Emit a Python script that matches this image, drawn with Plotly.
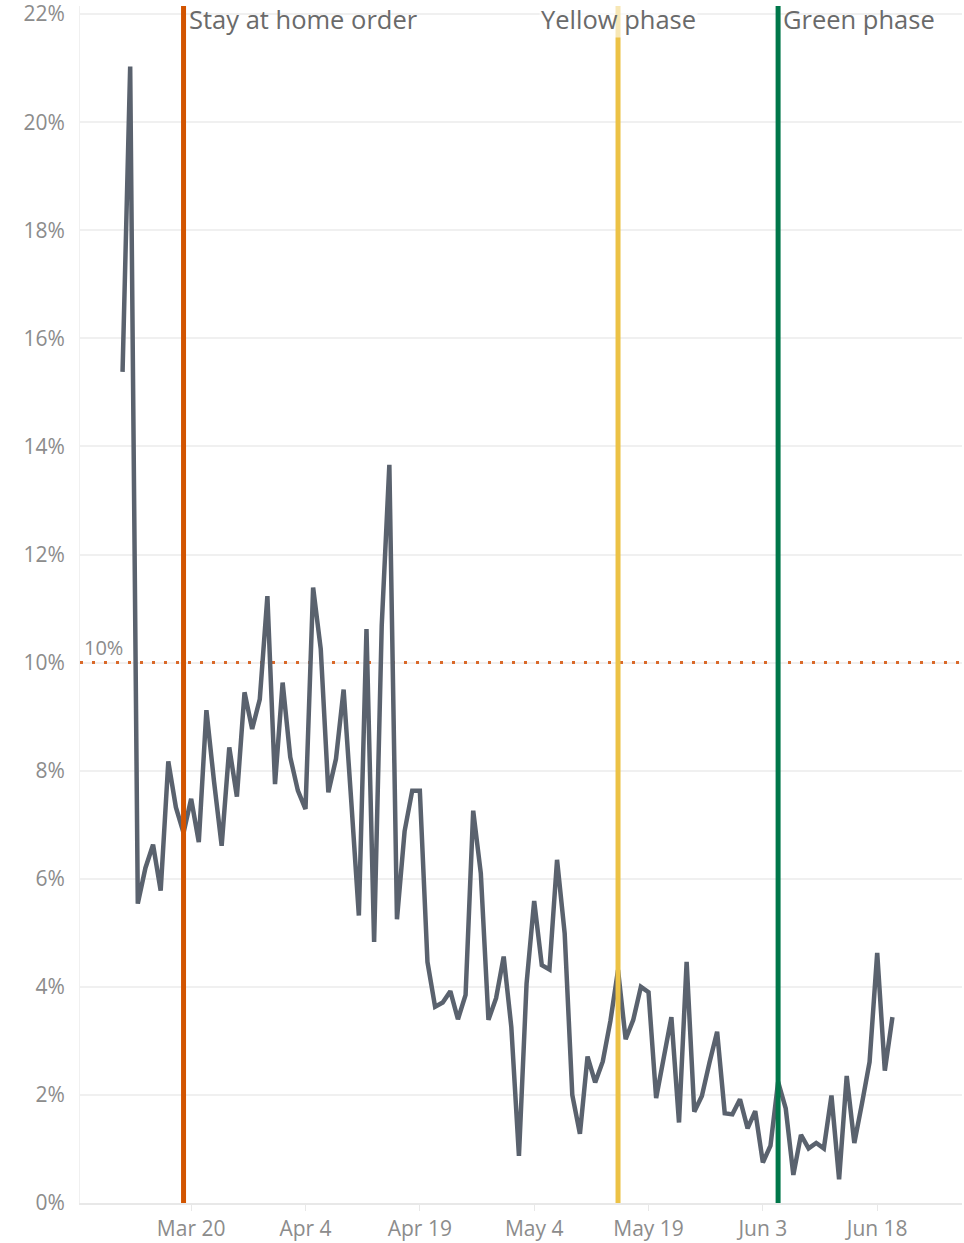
import pandas as pd
import plotly.graph_objects as go

# daily positivity rate, starting Mar 11 2020
start_date = "2020-03-11"
positivity = [
    15.38, 21.03, 5.54, 6.2, 6.63, 5.78, 8.17, 7.32, 6.85, 7.48,
    6.68, 9.12, 7.8, 6.61, 8.43, 7.52, 9.45, 8.77, 9.32, 11.23,
    7.75, 9.63, 8.25, 7.63, 7.29, 11.39, 10.25, 7.6, 8.22, 9.5,
    7.44, 5.32, 10.62, 4.83, 10.69, 13.66, 5.25, 6.88, 7.63, 7.63,
    4.46, 3.63, 3.71, 3.92, 3.4, 3.85, 7.26, 6.1, 3.39, 3.79,
    4.56, 3.26, 0.87, 4.06, 5.59, 4.4, 4.32, 6.35, 4.99, 2.0,
    1.28, 2.71, 2.23, 2.62, 3.37, 4.31, 3.03, 3.39, 4.0, 3.9,
    1.94, 2.68, 3.44, 1.49, 4.46, 1.69, 1.98, 2.6, 3.17, 1.66,
    1.64, 1.92, 1.38, 1.7, 0.75, 1.06, 2.24, 1.75, 0.52, 1.26,
    1.01, 1.11, 1.01, 1.99, 0.44, 2.35, 1.11, 1.84, 2.61, 4.63,
    2.45, 3.44,
]
dates = pd.date_range(start_date, periods=len(positivity), freq="D")

# policy events
event_dates = ["2020-03-19", "2020-05-15", "2020-06-05"]
event_labels = ["Stay at home order", "Yellow phase", "Green phase"]
event_colors = ["#d25400", "#ecc246", "#00774a"]

threshold = 10
y_ticks = [0, 2, 4, 6, 8, 10, 12, 14, 16, 18, 20, 22]
x_ticks = ["2020-03-20", "2020-04-04", "2020-04-19", "2020-05-04",
           "2020-05-19", "2020-06-03", "2020-06-18"]
x_ticklabels = ["Mar 20", "Apr 4", "Apr 19", "May 4", "May 19", "Jun 3", "Jun 18"]
x_range = ["2020-03-05 10:00", "2020-06-29 03:00"]

font = "Open Sans"
tick_grey = "#8c8c8c"
text_grey = "#6a6a6a"

fig = go.Figure()

# 10% threshold, dotted (as a trace so the data line sits on top)
fig.add_trace(go.Scatter(
    x=x_range, y=[threshold, threshold],
    mode="lines",
    line=dict(color="#d9692a", width=3, dash="3px,9px"),
    hoverinfo="skip", showlegend=False,
))

fig.add_trace(go.Scatter(
    x=dates, y=positivity,
    mode="lines",
    line=dict(color="#5a626e", width=4.5),
    showlegend=False,
))

# event lines
for d, c in zip(event_dates, event_colors):
    fig.add_vline(x=d, line=dict(color=c, width=5), layer="above")

# event labels
fig.add_annotation(x=event_dates[0], y=1, yref="paper", text=event_labels[0],
                   xanchor="left", yanchor="top", xshift=3, yshift=6, showarrow=False,
                   font=dict(family=font, size=25.5, color=text_grey))
fig.add_annotation(x=event_dates[1], y=1, yref="paper", text=event_labels[1],
                   xanchor="center", yanchor="top", yshift=6, showarrow=False,
                   bgcolor="rgba(255,255,255,0.6)",
                   font=dict(family=font, size=25.5, color=text_grey))
fig.add_annotation(x=event_dates[2], y=1, yref="paper", text=event_labels[2],
                   xanchor="left", yanchor="top", xshift=3, yshift=6, showarrow=False,
                   font=dict(family=font, size=25.5, color=text_grey))

# threshold label
fig.add_annotation(x=0, xref="paper", y=threshold, text="10%",
                   xanchor="left", yanchor="bottom", xshift=2, showarrow=False,
                   font=dict(family=font, size=20, color=tick_grey))

fig.update_layout(
    width=964, height=1243,
    margin=dict(l=80, r=2, t=6, b=40),
    plot_bgcolor="white", paper_bgcolor="white",
    font=dict(family=font, size=20, color=tick_grey),
    xaxis=dict(
        range=x_range, automargin=False,
        tickvals=x_ticks, ticktext=x_ticklabels,
        showgrid=False, zeroline=False,
        showline=True, linecolor="#e8e8e8", linewidth=2,
        ticks="outside", ticklen=6, tickcolor="#e8e8e8",
        tickfont=dict(family=font, size=21, color=tick_grey),
    ),
    yaxis=dict(
        range=[0, 22.15], automargin=False,
        tickvals=y_ticks, ticktext=[f"{v}%" for v in y_ticks],
        showgrid=True, gridcolor="#f0f0f0", gridwidth=1.5,
        zeroline=False, showline=True, linecolor="#f0f0f0",
        ticks="", ticklabelstandoff=10, ticklabeloverflow="allow",
        tickfont=dict(family=font, size=21, color=tick_grey),
    ),
)

# drop the default page margin so the figure fills the window exactly
fig.write_html("out.html", config={"displayModeBar": False},
               post_script="document.body.style.margin='0';")
